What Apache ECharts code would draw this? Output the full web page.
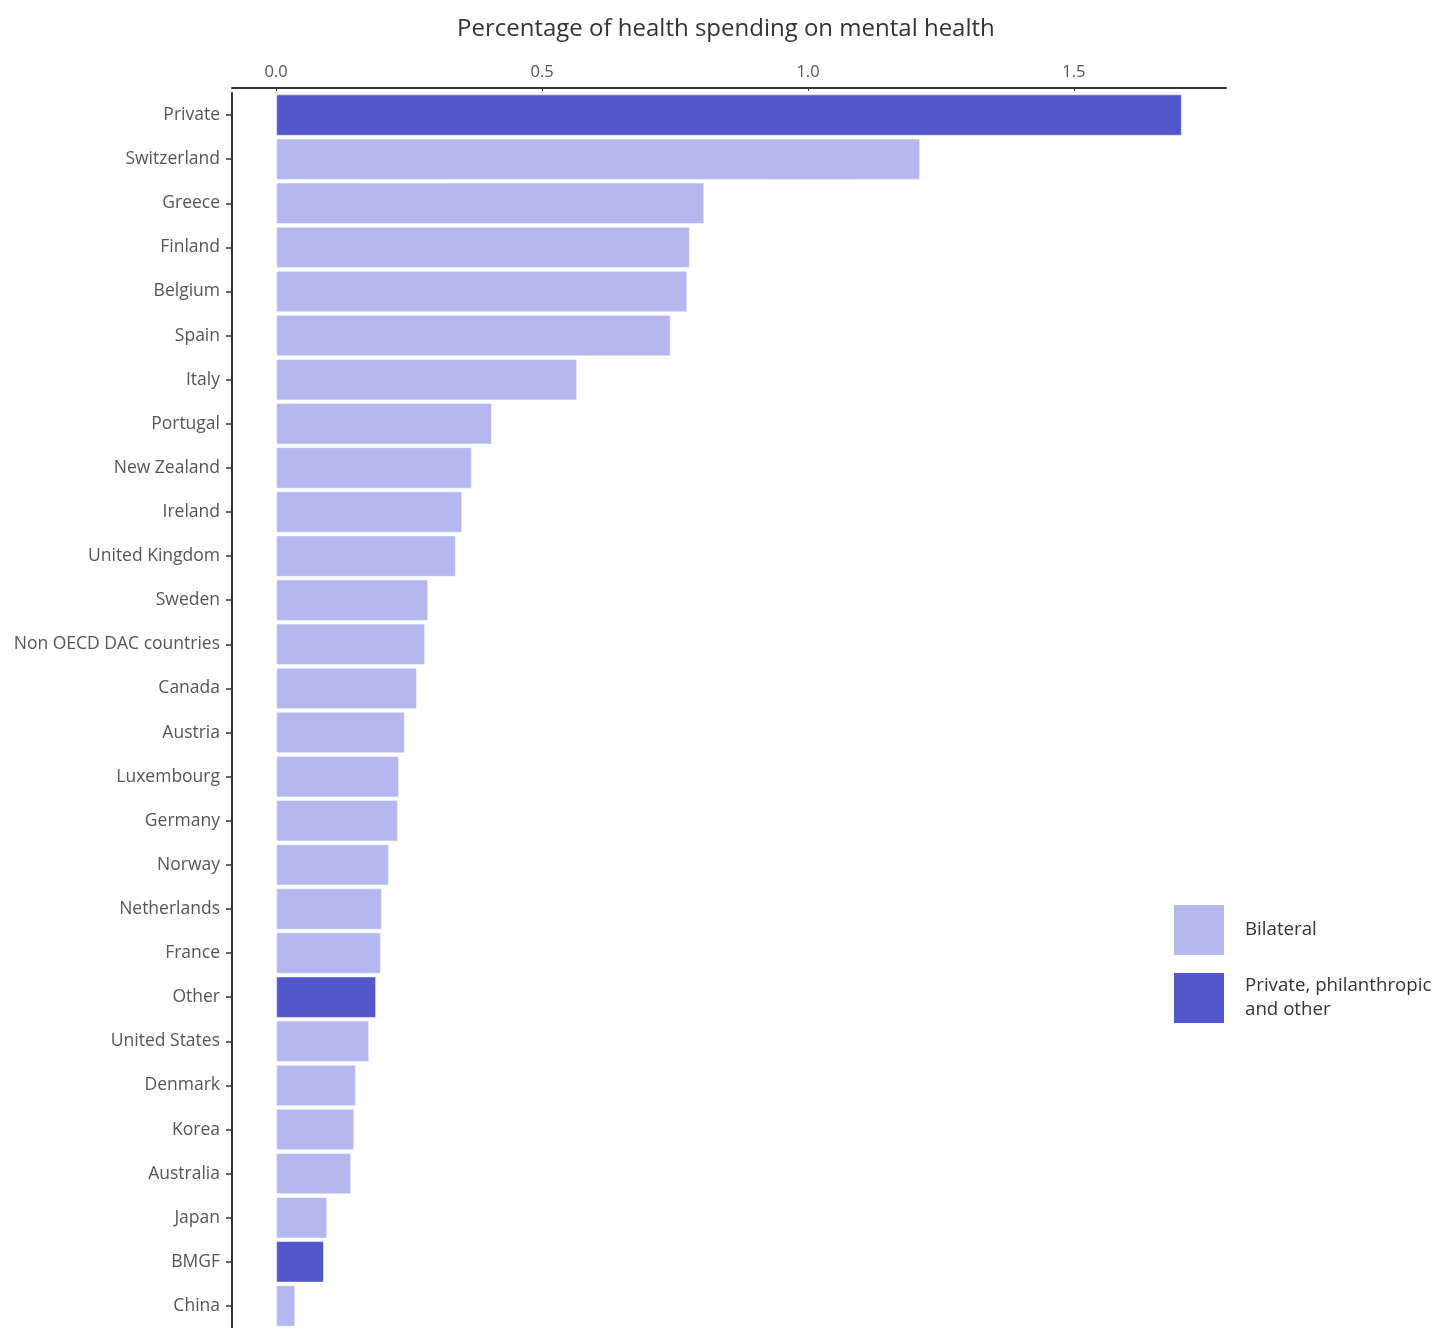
<!DOCTYPE html>
<html>
<head>
<meta charset="utf-8">
<script src="https://cdn.jsdelivr.net/npm/echarts@6/dist/echarts.min.js"></script>
<style>
html,body{margin:0;padding:0;background:#fff;}
#chart{width:1433px;height:1328px;}
</style>
</head>
<body>
<div id="chart"></div>
<script>
var categories = ["Private","Switzerland","Greece","Finland","Belgium","Spain","Italy","Portugal","New Zealand","Ireland","United Kingdom","Sweden","Non OECD DAC countries","Canada","Austria","Luxembourg","Germany","Norway","Netherlands","France","Other","United States","Denmark","Korea","Australia","Japan","BMGF","China"];
var values = [1.703,1.211,0.805,0.778,0.773,0.742,0.566,0.406,0.368,0.350,0.338,0.286,0.280,0.265,0.242,0.231,0.229,0.212,0.199,0.197,0.188,0.175,0.150,0.147,0.141,0.096,0.090,0.036];
var groups = ["P","B","B","B","B","B","B","B","B","B","B","B","B","B","B","B","B","B","B","B","P","B","B","B","B","B","P","B"];
var seriesNames = ["Bilateral","Private, philanthropic and other"];
var xTickLabels = ["0.0","0.5","1.0","1.5"];

var bilateral = values.map(function(v,i){return groups[i]==="B"?v:"-";});
var privateVals = values.map(function(v,i){return groups[i]==="P"?v:"-";});

var chart = echarts.init(document.getElementById('chart'));
var font = "'Open Sans', 'Noto Sans', sans-serif";
chart.setOption({
  animation:false,
  textStyle:{fontFamily:font},
  title:{
    text:"Percentage of health spending on mental health",
    left:457, top:17, padding:0,
    textStyle:{fontSize:24, fontWeight:'normal', color:'#333', fontFamily:font}
  },
  legend:{
    orient:'vertical', left:1174, top:905, padding:0,
    itemWidth:50, itemHeight:50, itemGap:18,
    icon:'rect',
    data:seriesNames,
    formatter:function(n){return n==="Private, philanthropic and other"?"Private, philanthropic\nand other":n;},
    textStyle:{fontSize:18.7, color:'#333', fontFamily:font, lineHeight:24, padding:[0,0,0,16]},
    itemStyle:{borderWidth:0}
  },
  grid:{left:232, right:207, top:93, height:1243, containLabel:false},
  xAxis:{
    type:'value', position:'top', offset:5,
    min:-0.083, max:1.786,
    splitNumber:4, minInterval:0.5, maxInterval:0.5,
    splitLine:{show:false},
    axisLine:{show:true, lineStyle:{color:'#333', width:2}},
    axisTick:{show:true, inside:true, length:3, lineStyle:{color:'#333'}},
    axisLabel:{
      showMinLabel:false, showMaxLabel:false, margin:7,
      fontSize:16.5, color:'#555', fontFamily:font,
      formatter:function(v){
        var k = Math.round(v/0.5);
        if (Math.abs(v - k*0.5) > 1e-6 || k < 0 || k >= xTickLabels.length) return '';
        return xTickLabels[k];
      }
    }
  },
  yAxis:{
    type:'category', inverse:true, data:categories,
    axisLine:{show:true, onZero:false, lineStyle:{color:'#333', width:2}},
    axisTick:{show:true, alignWithLabel:true, length:6, lineStyle:{color:'#333', width:1.5}},
    axisLabel:{fontSize:17.5, color:'#555', margin:12, fontFamily:font},
    splitLine:{show:false}
  },
  series:[
    {name:seriesNames[0], type:'bar', data:bilateral, barGap:'-100%', barCategoryGap:'6%',
     itemStyle:{color:'#b4b8ee', borderColor:'rgba(255,255,255,0.5)', borderWidth:1}},
    {name:seriesNames[1], type:'bar', data:privateVals, barGap:'-100%', barCategoryGap:'6%',
     itemStyle:{color:'#5058cb', borderColor:'rgba(255,255,255,0.5)', borderWidth:1}}
  ]
});
</script>
</body>
</html>
